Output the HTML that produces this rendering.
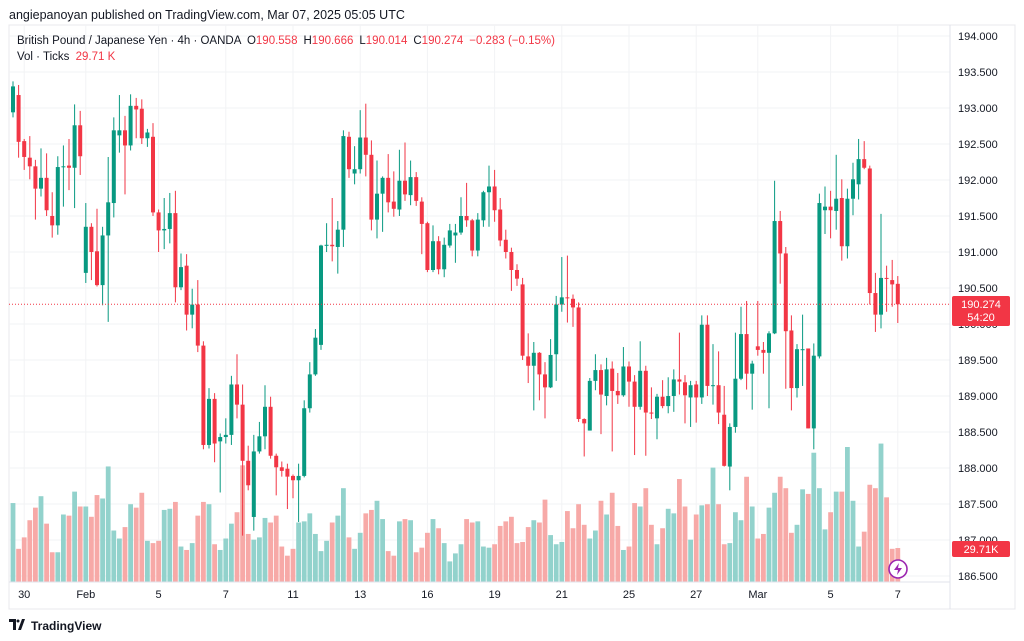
<!DOCTYPE html>
<html><head><meta charset="utf-8">
<style>
body{margin:0;width:1024px;height:641px;background:#fff;overflow:hidden;font-family:"Liberation Sans",sans-serif;}
svg{position:absolute;left:0;top:0}
</style></head>
<body>
<svg id="chart" width="1024" height="641">
<text x="9" y="19" font-size="12.5" fill="#131722">angiepanoyan published on TradingView.com, Mar 07, 2025 05:05 UTC</text>
<rect x="9" y="25" width="1006" height="584" fill="none" stroke="#e8e8ec"/>
<g id="grid"></g>
<g id="vols"></g>
<g id="candles"></g>
<line x1="9" y1="304.3" x2="950" y2="304.3" stroke="#F23645" stroke-width="1" stroke-dasharray="1,2"/>
<line x1="950" y1="25" x2="950" y2="609" stroke="#e0e3eb"/>
<line x1="9" y1="582" x2="950" y2="582" stroke="#e0e3eb"/>
<g id="yticks"></g>
<g id="xticks"></g>
<text x="17" y="44" font-size="11.5" fill="#131722">British Pound / Japanese Yen · 4h · OANDA <tspan dx="3">O</tspan><tspan fill="#F23645">190.558</tspan><tspan dx="6">H</tspan><tspan fill="#F23645">190.666</tspan><tspan dx="6">L</tspan><tspan fill="#F23645">190.014</tspan><tspan dx="6">C</tspan><tspan fill="#F23645">190.274</tspan><tspan dx="6" fill="#F23645">−0.283 (−0.15%)</tspan></text>
<text x="17" y="60" font-size="11.5" fill="#131722">Vol · Ticks <tspan dx="3" fill="#F23645">29.71 K</tspan></text>
<rect x="952" y="296" width="58" height="30" rx="2" fill="#F23645"/>
<text x="981" y="308" font-size="11" fill="#fff" text-anchor="middle">190.274</text>
<text x="981" y="321" font-size="11" fill="#fff" text-anchor="middle">54:20</text>
<rect x="952" y="541" width="58" height="16" rx="2" fill="#F23645"/>
<text x="981" y="553" font-size="11" fill="#fff" text-anchor="middle">29.71K</text>
<circle cx="898" cy="569" r="9" fill="#fff" stroke="#9c27b0" stroke-width="1.6"/>
<path d="M899 563 L894 570 L898 570 L897 575 L902 568 L898 568 Z" fill="#9c27b0"/>
<g>
<path d="M9 619 h7 v11 h-3 v-8 h-4 z M18 630 l4 -11 h3 l-4 11 z" fill="#131722"/>
<circle cx="18" cy="621" r="1.5" fill="#131722"/>
<text x="31" y="630" font-size="12" font-weight="bold" fill="#131722">TradingView</text>
</g>
</svg>
<script>
const O=[192.94,193.18,192.54,192.31,192.19,191.88,192.03,191.50,191.37,192.18,192.20,192.17,192.76,190.71,191.35,191.01,190.54,191.23,191.68,192.62,192.69,192.48,193.03,192.99,192.58,192.60,191.55,191.30,191.32,191.54,190.51,190.81,190.13,190.27,189.70,188.32,188.96,188.37,188.43,188.46,189.16,188.88,188.10,187.32,188.23,188.44,188.85,188.17,188.01,187.99,187.89,187.83,187.89,188.83,189.30,189.71,191.09,191.10,191.07,191.31,192.60,192.09,192.15,192.59,192.35,191.45,191.81,192.03,191.70,191.59,191.99,191.79,192.04,191.70,191.40,190.75,191.15,190.76,191.09,191.23,191.27,191.50,191.44,191.02,191.44,191.83,191.91,191.59,191.17,191.00,190.75,190.55,189.55,189.42,189.60,189.30,189.12,189.58,190.27,190.37,190.35,190.23,188.68,188.52,189.21,189.36,189.00,189.38,189.07,189.01,189.41,189.20,188.85,189.35,188.77,188.69,188.99,188.86,189.00,189.23,189.19,188.98,189.16,188.98,189.99,189.14,189.15,188.74,188.02,188.57,189.24,189.86,189.31,189.69,189.64,189.60,189.87,191.43,190.98,189.91,189.11,189.65,189.66,188.55,189.55,191.58,191.63,191.57,191.75,191.08,191.74,191.94,192.29,192.16,190.43,190.13,190.64,190.61,190.558];
const H=[193.37,193.32,192.57,192.61,192.28,192.44,192.37,191.83,192.33,192.48,192.57,193.05,192.96,191.68,191.40,191.60,191.35,192.32,192.87,193.18,192.89,193.19,193.14,193.12,192.71,192.79,191.59,191.75,191.82,191.85,190.98,190.97,190.49,190.61,189.76,189.11,189.04,188.48,188.69,189.28,189.58,189.16,188.31,188.46,188.64,189.15,188.99,188.20,188.09,188.06,187.91,188.06,188.94,189.47,189.93,191.10,191.40,191.75,191.43,192.69,192.67,192.47,192.97,193.06,192.55,192.27,192.05,192.36,192.12,192.42,192.52,192.27,192.11,191.76,191.42,191.37,191.22,191.20,191.39,191.39,191.76,191.96,191.46,191.54,191.85,192.20,192.14,191.75,191.31,191.06,190.83,190.64,189.87,189.75,189.61,189.47,189.79,190.39,190.93,190.95,190.41,190.30,188.69,189.25,189.58,189.44,189.53,189.48,189.32,189.68,189.48,189.29,189.76,189.42,189.12,189.03,189.22,189.26,189.37,189.88,189.29,189.21,189.21,190.12,190.12,189.72,189.62,189.14,188.62,189.88,190.24,190.32,189.49,190.32,189.75,189.90,191.99,191.57,191.07,190.12,189.72,190.13,189.66,189.73,191.81,191.91,191.85,192.35,192.01,191.88,192.24,192.57,192.54,192.20,190.71,191.53,190.81,190.89,190.666];
const L=[192.87,192.31,192.14,192.01,191.45,191.77,191.50,191.20,191.24,191.63,191.86,191.61,192.07,190.57,190.61,190.52,190.26,190.03,191.48,192.38,191.80,192.41,192.58,192.50,192.46,191.50,191.00,191.04,191.12,190.30,190.47,189.91,189.94,189.61,188.26,188.27,188.08,187.66,188.34,188.32,188.69,187.06,187.69,187.13,188.20,188.26,188.13,187.62,187.88,187.43,187.58,187.25,187.87,188.77,189.28,189.64,191.00,190.87,190.70,191.07,192.03,191.94,192.09,192.05,191.30,191.19,191.28,191.55,191.49,191.50,191.71,191.65,191.64,190.97,190.72,190.72,190.69,190.65,191.06,190.85,191.24,191.35,190.94,190.94,191.35,191.35,191.42,191.08,190.91,190.46,190.53,189.50,189.18,188.80,188.94,188.69,189.11,189.21,190.17,190.02,189.96,188.64,188.16,188.52,189.08,188.47,188.87,188.23,188.89,188.99,188.85,188.18,188.81,188.17,188.68,188.40,188.83,188.76,188.78,189.02,188.62,188.57,188.63,188.89,189.00,188.88,188.61,188.02,187.69,188.49,189.22,189.09,188.81,189.56,189.31,188.83,189.86,190.56,189.10,188.80,188.98,189.14,188.55,188.26,189.52,191.25,191.19,191.31,190.88,190.91,191.51,191.73,192.15,190.27,189.89,189.94,190.17,190.24,190.014];
const C=[193.30,192.53,192.32,192.19,191.88,192.03,191.58,191.37,192.18,192.19,192.17,192.76,192.33,191.35,191.00,190.54,191.23,191.69,192.69,192.69,192.48,193.03,192.98,192.58,192.66,191.55,191.30,191.32,191.54,190.51,190.79,190.13,190.27,189.70,188.32,188.96,188.34,188.43,188.46,189.16,188.88,188.10,187.76,188.23,188.44,188.85,188.17,188.01,187.96,187.88,187.83,187.89,188.83,189.30,189.81,191.09,191.10,191.08,191.31,192.61,192.15,192.15,192.59,192.35,191.45,191.81,192.03,191.69,191.60,191.99,191.80,192.04,191.71,191.39,190.75,191.15,190.76,191.10,191.30,191.27,191.50,191.44,191.02,191.45,191.83,191.91,191.58,191.16,191.00,190.75,190.63,189.56,189.42,189.60,189.30,189.12,189.57,190.27,190.37,190.36,190.23,188.68,188.62,189.21,189.36,189.02,189.37,189.07,189.01,189.41,189.20,188.85,189.35,188.77,188.76,188.99,188.86,189.00,189.23,189.20,189.01,189.15,188.98,189.99,189.14,189.15,188.77,188.03,188.57,189.24,189.86,189.31,189.45,189.64,189.60,189.87,191.43,190.98,189.90,189.11,189.65,189.65,188.55,189.56,191.68,191.63,191.58,191.74,191.08,191.74,192.01,192.29,192.17,190.43,190.13,190.64,190.63,190.55,190.274];
const V=[69,29,39,54,65,75,51,26,26,59,58,79,66,66,57,76,73,101,45,38,48,68,65,78,36,34,36,63,64,70,31,28,34,58,70,68,33,28,38,51,61,102,42,37,39,56,52,58,31,23,29,52,53,60,42,27,36,52,58,82,39,29,43,60,63,71,55,27,23,53,55,54,26,30,43,55,47,34,18,25,33,55,52,53,31,30,33,49,53,57,34,35,48,54,52,72,41,33,35,62,47,68,50,38,45,71,59,78,49,28,31,69,66,82,50,33,47,64,60,90,66,37,59,67,68,100,68,33,34,61,54,92,66,38,42,65,78,92,82,43,50,81,77,113,82,46,61,79,79,118,71,31,44,85,82,121,74,29,29.71];
const priceTicks=["194.000","193.500","193.000","192.500","192.000","191.500","191.000","190.500","190.000","189.500","189.000","188.500","188.000","187.500","187.000","186.500"];
const dateLabels=["30","Feb","5","7","11","13","16","19","21","25","27","Mar","5","7"];
const dateIndex=[2,13,26,38,50,62,74,86,98,110,122,133,146,158];
</script>
<script>
const NS="http://www.w3.org/2000/svg";
const xOf=i=>13+i*5.6;
const yOf=p=>36+(194-p)*72;
const vOf=v=>582-v*1.144;
function mk(tag,attrs,parent){const e=document.createElementNS(NS,tag);for(const k in attrs)e.setAttribute(k,attrs[k]);parent.appendChild(e);return e;}
const grid=document.getElementById('grid'),yt=document.getElementById('yticks'),xt=document.getElementById('xticks');
priceTicks.forEach(t=>{const y=yOf(parseFloat(t));
 const gl=mk('line',{x1:9,x2:950,y1:y,y2:y,stroke:'#f2f3f5'},grid);
 
 
 const tx=mk('text',{x:958,y:y+4,'font-size':11,fill:'#131722'},yt);tx.textContent=t;
 
 
});
dateLabels.forEach((d,k)=>{const x=xOf(dateIndex[k]);
 const gl=mk('line',{x1:x,x2:x,y1:25,y2:582,stroke:'#f2f3f5'},grid);
 
 
 const tx=mk('text',{x:x,y:598,'font-size':11,fill:'#131722','text-anchor':'middle'},xt);tx.textContent=d;
 
 
});
const vg=document.getElementById('vols'),cg=document.getElementById('candles');
for(let i=0;i<O.length;i++){
 const up=C[i]>=O[i];const col=up?'#089981':'#F23645';const x=xOf(i);
 const vb=mk('rect',{x:x-2.4,y:vOf(V[i]),width:4.8,height:582-vOf(V[i]),fill:up?'#92D2CC':'#F7A9A7'},vg);
 
 
 const w=mk('line',{x1:x,x2:x,y1:yOf(H[i]),y2:yOf(L[i]),stroke:col,'stroke-width':1},cg);
 
 
 const top=yOf(Math.max(O[i],C[i])),bot=yOf(Math.min(O[i],C[i]));
 const b=mk('rect',{x:x-2,y:top,width:4,height:Math.max(1,bot-top),fill:col},cg);
 
 
}
</script>
</body></html>
